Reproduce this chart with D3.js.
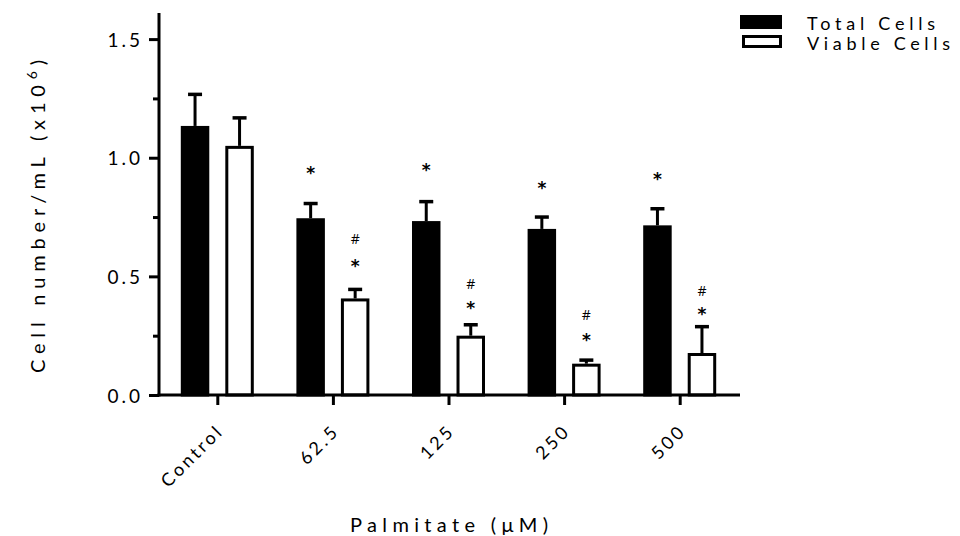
<!DOCTYPE html>
<html><head><meta charset="utf-8">
<script src="https://cdn.jsdelivr.net/npm/d3@7"></script>
<style>body{margin:0;background:#fff}svg{display:block}text{fill:#000}</style>
</head><body><svg id="c" width="960" height="536" style="font-family:Lato,'Open Sans',sans-serif"></svg>
<script>
const categories = ["Control","62.5","125","250","500"];
const series = ["Total Cells","Viable Cells"];
const totalMean = [1.134, 0.745, 0.733, 0.700, 0.715];
const totalErr  = [0.133, 0.062, 0.082, 0.050, 0.070];
const viableMean = [1.050, 0.407, 0.250, 0.132, 0.177];
const viableErr  = [0.118, 0.038, 0.046, 0.015, 0.111];
const totalStar = [null, 0.952, 0.965, 0.889, 0.927];
const viableStar = [null, 0.562, 0.383, 0.249, 0.358];
const viableHash = [null, 0.663, 0.473, 0.344, 0.445];
const yTicks = [0, 0.5, 1.0, 1.5];
const yMinorTicks = [0.25, 0.75, 1.25];

const svg = d3.select("#c");
const x = d3.scaleBand().domain(categories).range([160, 738]).padding(0);
const y = d3.scaleLinear().domain([0, 1.61]).range([395, 13]);
const sub = d3.scaleBand().domain(series).range([-37, 36]).paddingInner(0.36).paddingOuter(0);

const data = categories.map((c,i)=>[
  {c, s:series[0], v:totalMean[i], e:totalErr[i]},
  {c, s:series[1], v:viableMean[i], e:viableErr[i]}
]).flat();
const cxOf = d => x(d.c) + x.bandwidth()/2 + sub(d.s) + sub.bandwidth()/2;

// error bars
const g = svg.append("g");
data.forEach(d=>{
  const cx = cxOf(d);
  g.append("line").attr("x1",cx).attr("x2",cx).attr("y1",y(d.v)).attr("y2",y(d.v+d.e))
    .attr("stroke","#000").attr("stroke-width",3);
  g.append("line").attr("x1",cx-7).attr("x2",cx+7).attr("y1",y(d.v+d.e)).attr("y2",y(d.v+d.e))
    .attr("stroke","#000").attr("stroke-width",3.5);
});
// bars
g.selectAll("rect.bar").data(data).join("rect")
  .attr("x", d=> x(d.c)+x.bandwidth()/2+sub(d.s)+1.5)
  .attr("width", sub.bandwidth()-3)
  .attr("y", d=> y(d.v)+1.5)
  .attr("height", d=> y(0)-y(d.v)-1.5)
  .attr("fill", d=> d.s===series[0] ? "#000" : "#fff")
  .attr("stroke","#000").attr("stroke-width",3);

// annotations
function ann(arr, s, ch, size, dy, fam, weight){
  categories.forEach((c,i)=>{
    if(arr[i]==null) return;
    const cx = cxOf({c, s});
    svg.append("text").attr("x",cx).attr("y",y(arr[i])+dy).attr("text-anchor","middle")
      .attr("dominant-baseline","central")
      .style("font-size",size+"px").style("font-family",fam).style("font-weight",weight).text(ch);
  });
}
ann(totalStar, series[0], "*", 17, 4, "'DejaVu Sans'", "bold");
ann(viableStar, series[1], "*", 17, 4, "'DejaVu Sans'", "bold");
ann(viableHash, series[1], "#", 14, 1, "'Open Sans'", "normal");

// y axis
const yAxis = d3.axisLeft(y).tickValues(yTicks).tickFormat(d3.format(".1f")).tickSize(10).tickPadding(6);
const ya = svg.append("g").attr("transform","translate(159,0)").call(yAxis).attr("font-family",null);
ya.select(".domain").attr("d", `M0,${y(1.61)}V${y(0)+1.5}`).attr("stroke-width",3);
ya.selectAll(".tick line").attr("stroke-width",3);
ya.selectAll(".tick text").attr("font-size",19).attr("letter-spacing","3px").attr("dy","0.38em");
const ym = svg.append("g").attr("transform","translate(159,0)").call(d3.axisLeft(y).tickValues(yMinorTicks).tickSize(6).tickFormat(""));
ym.select(".domain").remove();
ym.selectAll(".tick line").attr("stroke-width",3);

// x axis
const xAxis = d3.axisBottom(x).tickSize(10).tickPadding(0);
const xa = svg.append("g").attr("transform",`translate(0,${y(0)})`).call(xAxis).attr("font-family",null);
xa.select(".domain").attr("d","M157.5,0H740").attr("stroke-width",3);
xa.selectAll(".tick line").attr("stroke-width",3);
xa.selectAll(".tick text").attr("font-size",18).attr("letter-spacing","3px")
  .attr("text-anchor","end").attr("x",0).attr("y",0).attr("dy",0)
  .attr("transform","translate(7,37) rotate(-45)");

// axis titles
svg.append("text").attr("x",449).attr("y",532).attr("text-anchor","middle").attr("font-size",20)
  .attr("textLength",198).attr("lengthAdjust","spacing").text("Palmitate (μM)");
const yl = svg.append("text").attr("transform","translate(45,216.5) rotate(-90)").attr("text-anchor","middle")
  .attr("font-size",20).attr("textLength",313).attr("lengthAdjust","spacing");
yl.append("tspan").text("Cell number/mL (x10");
yl.append("tspan").attr("dy",-8).attr("font-size",14).text("6");
yl.append("tspan").attr("dy",8).text(")");

// legend
const lg = svg.append("g");
const legendLen = [128, 143];
series.forEach((s,i)=>{
  const yy = 15 + i*20;
  lg.append("rect").attr("x", i===0?740:743.5).attr("y", i===0?yy:yy+1.5)
    .attr("width", i===0?42:37).attr("height", i===0?14:10)
    .attr("fill", i===0?"#000":"#fff").attr("stroke","#000").attr("stroke-width", i===0?0:3);
  lg.append("text").attr("x",807).attr("y",yy+15).attr("font-size",18)
    .attr("textLength",legendLen[i]).attr("lengthAdjust","spacing").text(s);
});
</script></body></html>
